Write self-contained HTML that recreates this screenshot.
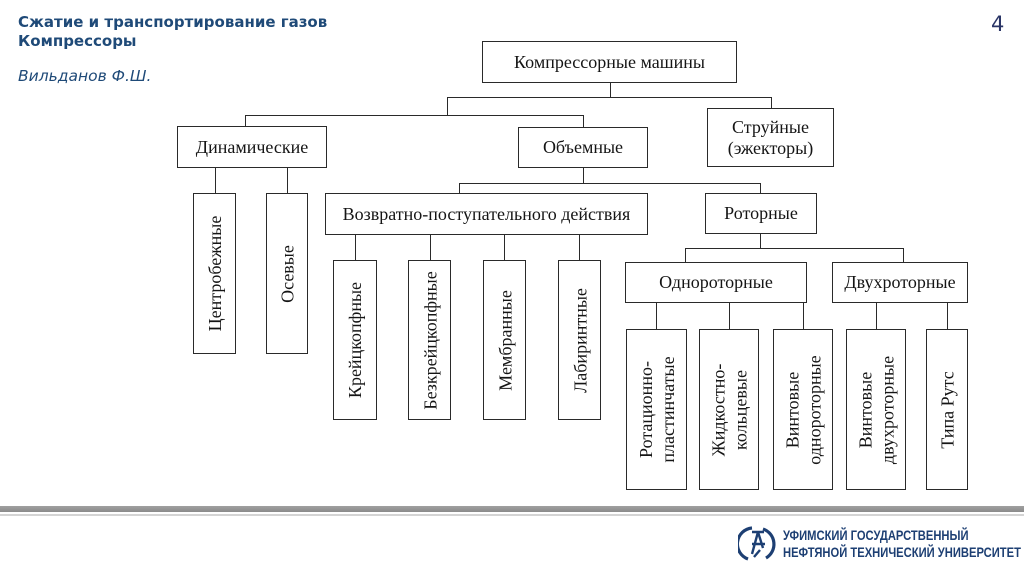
<!DOCTYPE html>
<html>
<head>
<meta charset="utf-8">
<style>
  html,body{margin:0;padding:0;}
  body{width:1024px;height:574px;position:relative;background:#fff;overflow:hidden;}
  .t{position:absolute;font-family:"DejaVu Sans","Liberation Sans",sans-serif;color:#1f4a78;white-space:nowrap;}
  .b{position:absolute;box-sizing:border-box;border:1px solid #2a2a2a;background:#fff;
     font-family:"Liberation Serif","Noto Serif CJK SC",serif;font-size:18px;color:#151515;
     display:flex;align-items:center;justify-content:center;text-align:center;line-height:21px;}
  .v{position:absolute;display:flex;align-items:center;justify-content:center;text-align:center;
     transform:rotate(-90deg);white-space:nowrap;line-height:22px;}
  .h{position:absolute;height:1px;background:#2a2a2a;}
  .l{position:absolute;width:1px;background:#2a2a2a;}
</style>
</head>
<body>

<div class="t" style="left:18px;top:13px;font-size:15px;font-weight:bold;line-height:19px;">Сжатие и транспортирование газов<br>Компрессоры</div>
<div class="t" style="left:18px;top:67px;font-size:15.5px;font-style:italic;">Вильданов Ф.Ш.</div>
<div class="t" style="left:991px;top:12px;font-size:21px;color:#2a3566;">4</div>

<!-- connectors -->
<div class="l" style="left:610px;top:83px;height:14px;"></div>
<div class="h" style="left:447px;top:97px;width:325px;"></div>
<div class="l" style="left:447px;top:97px;height:18px;"></div>
<div class="l" style="left:771px;top:97px;height:11px;"></div>
<div class="h" style="left:245px;top:115px;width:339px;"></div>
<div class="l" style="left:245px;top:115px;height:12px;"></div>
<div class="l" style="left:583px;top:115px;height:12px;"></div>

<div class="l" style="left:215px;top:168px;height:25px;"></div>
<div class="l" style="left:287px;top:168px;height:25px;"></div>

<div class="l" style="left:583px;top:168px;height:15px;"></div>
<div class="h" style="left:459px;top:183px;width:302px;"></div>
<div class="l" style="left:459px;top:183px;height:10px;"></div>
<div class="l" style="left:760px;top:183px;height:10px;"></div>

<div class="l" style="left:355px;top:235px;height:25px;"></div>
<div class="l" style="left:430px;top:235px;height:25px;"></div>
<div class="l" style="left:504px;top:235px;height:25px;"></div>
<div class="l" style="left:579px;top:235px;height:25px;"></div>

<div class="l" style="left:760px;top:234px;height:14px;"></div>
<div class="h" style="left:685px;top:248px;width:219px;"></div>
<div class="l" style="left:685px;top:248px;height:14px;"></div>
<div class="l" style="left:903px;top:248px;height:14px;"></div>

<div class="l" style="left:656px;top:303px;height:26px;"></div>
<div class="l" style="left:729px;top:303px;height:26px;"></div>
<div class="l" style="left:803px;top:303px;height:26px;"></div>
<div class="l" style="left:876px;top:303px;height:26px;"></div>
<div class="l" style="left:947px;top:303px;height:26px;"></div>

<!-- boxes -->
<div class="b" style="left:482px;top:41px;width:255px;height:42px;">Компрессорные машины</div>
<div class="b" style="left:177px;top:126px;width:150px;height:42px;">Динамические</div>
<div class="b" style="left:518px;top:127px;width:130px;height:41px;">Объемные</div>
<div class="b" style="left:707px;top:108px;width:127px;height:59px;">Струйные<br>(эжекторы)</div>

<div class="b" style="left:193px;top:193px;width:43px;height:161px;"><div class="v" style="width:161px;height:43px;">Центробежные</div></div>
<div class="b" style="left:266px;top:193px;width:42px;height:161px;"><div class="v" style="width:161px;height:42px;">Осевые</div></div>

<div class="b" style="left:325px;top:193px;width:323px;height:42px;">Возвратно-поступательного действия</div>
<div class="b" style="left:705px;top:193px;width:112px;height:41px;">Роторные</div>

<div class="b" style="left:333px;top:260px;width:44px;height:160px;"><div class="v" style="width:160px;height:44px;">Крейцкопфные</div></div>
<div class="b" style="left:408px;top:260px;width:43px;height:160px;"><div class="v" style="width:160px;height:43px;">Безкрейцкопфные</div></div>
<div class="b" style="left:483px;top:260px;width:43px;height:160px;"><div class="v" style="width:160px;height:43px;">Мембранные</div></div>
<div class="b" style="left:558px;top:260px;width:43px;height:160px;"><div class="v" style="width:160px;height:43px;">Лабиринтные</div></div>

<div class="b" style="left:625px;top:262px;width:182px;height:41px;">Однороторные</div>
<div class="b" style="left:832px;top:262px;width:136px;height:41px;">Двухроторные</div>

<div class="b" style="left:626px;top:329px;width:61px;height:161px;"><div class="v" style="width:161px;height:61px;">Ротационно-<br>пластинчатые</div></div>
<div class="b" style="left:699px;top:329px;width:60px;height:161px;"><div class="v" style="width:161px;height:60px;">Жидкостно-<br>кольцевые</div></div>
<div class="b" style="left:773px;top:329px;width:60px;height:161px;"><div class="v" style="width:161px;height:60px;">Винтовые<br>однороторные</div></div>
<div class="b" style="left:846px;top:329px;width:60px;height:161px;"><div class="v" style="width:161px;height:60px;">Винтовые<br>двухроторные</div></div>
<div class="b" style="left:926px;top:329px;width:42px;height:161px;"><div class="v" style="width:161px;height:42px;">Типа Рутс</div></div>

<!-- bottom bar -->
<div style="position:absolute;left:0;top:506px;width:1024px;height:6px;background:linear-gradient(#a0a0a0,#8a8a8a);"></div>
<div style="position:absolute;left:0;top:514px;width:1024px;height:2px;background:#d4d4d4;"></div>

<!-- logo -->
<svg style="position:absolute;left:738px;top:524px;" width="40" height="40" viewBox="0 0 40 40">
  <path d="M14 4 A16 16 0 0 0 10 35" fill="none" stroke="#1d3f73" stroke-width="3.2"/>
  <path d="M25 5 A16 16 0 0 1 28 34" fill="none" stroke="#1d3f73" stroke-width="3.2"/>
  <path d="M14 8 L26 8 M20 8 L14 30 M20 8 L25 24 M14 20 L27 20 M16 33 L22 26" fill="none" stroke="#1d3f73" stroke-width="2.4"/>
</svg>
<div class="t" style="left:783px;top:527px;font-family:'Liberation Sans',sans-serif;font-weight:bold;font-size:14px;line-height:17px;color:#1d3f73;transform:scaleX(0.80);transform-origin:0 0;">УФИМСКИЙ ГОСУДАРСТВЕННЫЙ<br>НЕФТЯНОЙ ТЕХНИЧЕСКИЙ УНИВЕРСИТЕТ</div>

</body>
</html>
